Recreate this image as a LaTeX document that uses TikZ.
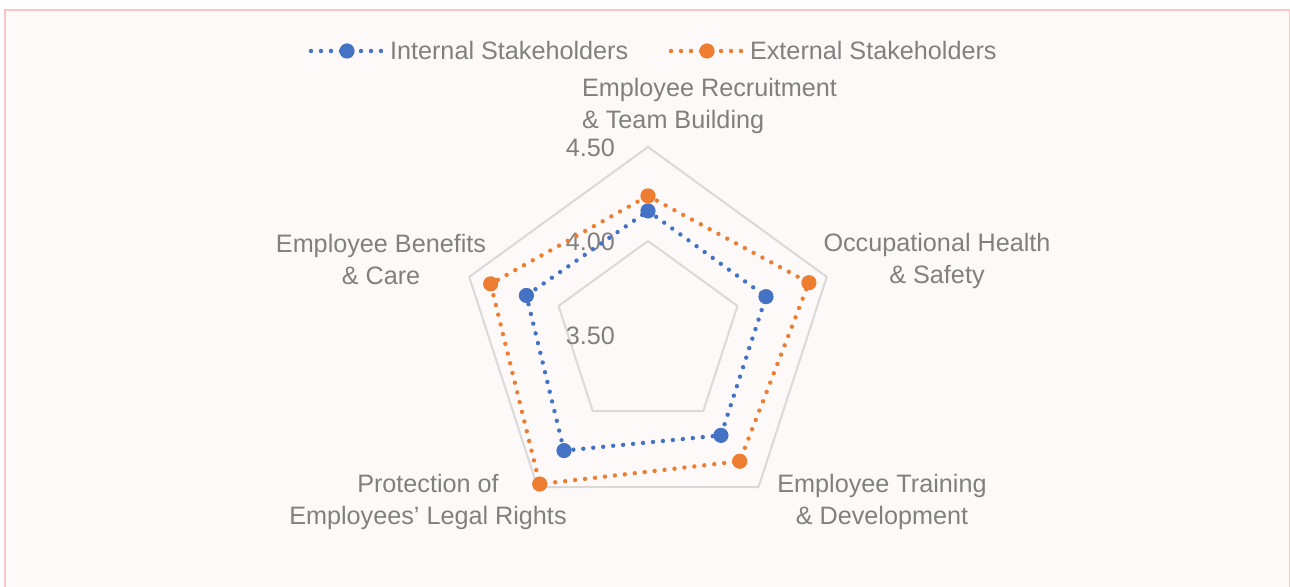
\documentclass[tikz,border=0pt]{standalone}
\usepackage{fontspec}
\setmainfont{Liberation Sans}
\definecolor{chartbg}{RGB}{253,249,248}
\definecolor{framepink}{RGB}{250,195,197}
\definecolor{gridgray}{RGB}{217,217,217}
\definecolor{labelgray}{RGB}{128,128,128}
\definecolor{intblue}{RGB}{68,114,196}
\definecolor{extorange}{RGB}{237,125,49}
\begin{document}
\begin{tikzpicture}[x = 0.5pt, y = 0.5pt,
        every node/.append style = {font = \fontsize{12.6}{16}\selectfont, text = labelgray},
        gridline/.style = {draw = gridgray, line width = 1pt, line join = round},
        series/.style = {line width = 2.2pt, line cap = round, dash pattern = on 0pt off 5pt},
        marker/.style = {circle, inner sep = 0pt, minimum size = 7.6pt}]
        \useasboundingbox (0,0) rectangle (1290,587);
        \draw[draw = framepink, fill = chartbg, line width = 1pt] (5,-10) rectangle (1289.5,577);
        \begin{scope}[shift = {(648,252)}]
            \foreach \r in {94,188}
                \draw[gridline] (90:\r) -- (18:\r) -- (-54:\r) -- (-126:\r) -- (162:\r) -- cycle;
            \node[anchor = east] (tick450) at (-26,187) {4.50};
            \node[anchor = east] (tick400) at (-26,93) {4.00};
            \node[anchor = east] (tick350) at (-26,-1) {3.50};
            \node[anchor = west, align = left] (recruit) at (-73,229) {Employee Recruitment\\\& Team Building};
            \node[align = center] (health) at (289,74) {Occupational Health\\\& Safety};
            \node[align = center] (training) at (234,-167) {Employee Training\\\& Development};
            \node[align = center] (rights) at (-220,-167) {Protection of\\Employees’ Legal Rights};
            \node[align = center] (benefits) at (-267,75) {Employee Benefits\\\& Care};
            \foreach \a/\v [count = \i] in {90/4.16, 18/4.16, -54/4.16, -126/4.26, 162/4.18}
                \coordinate (int\i) at (\a:{(\v-3.5)*188});
            \foreach \a/\v [count = \i] in {90/4.24, 18/4.40, -54/4.33, -126/4.48, 162/4.38}
                \coordinate (ext\i) at (\a:{(\v-3.5)*188});
            \draw[series, draw = intblue] (int1) -- (int2) -- (int3) -- (int4) -- (int5) -- cycle;
            \draw[series, draw = extorange] (ext1) -- (ext2) -- (ext3) -- (ext4) -- (ext5) -- cycle;
            \foreach \i in {1,...,5} {
                \node[marker, fill = intblue] (intdot\i) at (int\i) {};
                \node[marker, fill = extorange] (extdot\i) at (ext\i) {};
            }
        \end{scope}
        \begin{scope}[shift = {(0,536)}]
            \coordinate (intstart) at (311,0);
            \coordinate (intend) at (381,0);
            \draw[series, draw = intblue] (intstart) -- (intend);
            \node[marker, fill = intblue] (intkey) at (347,0) {};
            \node[anchor = west] (intlabel) at (383,0) {Internal Stakeholders};
            \coordinate (extstart) at (671,0);
            \coordinate (extend) at (741,0);
            \draw[series, draw = extorange] (extstart) -- (extend);
            \node[marker, fill = extorange] (extkey) at (707,0) {};
            \node[anchor = west] (extlabel) at (743,0) {External Stakeholders};
        \end{scope}
\end{tikzpicture}
\end{document}
